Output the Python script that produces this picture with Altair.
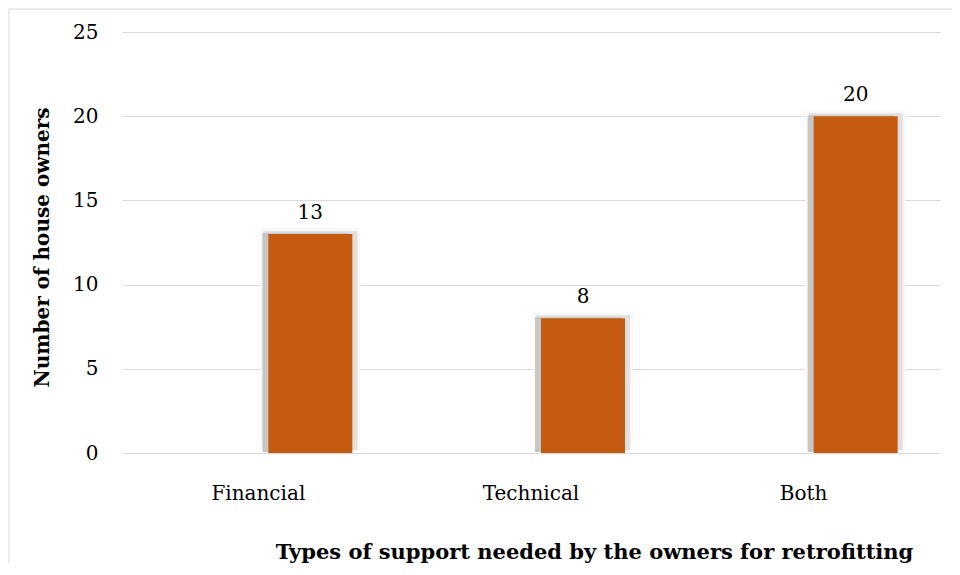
import altair as alt
import pandas as pd

categories = ["Financial", "Technical", "Both"]
values = [13, 8, 20]
y_ticks = [0, 5, 10, 15, 20, 25]

df = pd.DataFrame({"cat": categories, "val": values})
one = pd.DataFrame({"a": [0]})

FONT = "DejaVu Serif"
BAR = "#C55A11"
OFF = 52

x_enc = alt.X(
    "cat:N", sort=categories,
    scale=alt.Scale(paddingInner=0, paddingOuter=0),
    axis=alt.Axis(
        title="Types of support needed by the owners for retrofitting",
        labelAngle=0, labelFont=FONT, labelFontSize=20, labelColor="#000000",
        labelPadding=30, ticks=False, domain=True, domainColor="#d9d9d9",
        domainWidth=1, grid=False,
        titleFont=FONT, titleFontSize=21, titleFontWeight="bold", titleColor="#000000",
        titleX=472, titleY=105, titleAnchor="middle", titleAlign="center",
        titleBaseline="alphabetic",
    ),
)
y_enc = alt.Y(
    "val:Q",
    scale=alt.Scale(domain=[0, 25], nice=False),
    axis=alt.Axis(
        title="Number of house owners", values=y_ticks,
        labelFont=FONT, labelFontSize=20, labelColor="#000000", labelPadding=24,
        ticks=False, domain=False, grid=True, gridColor="#d9d9d9", gridWidth=1,
        titleFont=FONT, titleFontSize=20, titleFontWeight="bold", titleColor="#000000",
        titleX=-80, titleY=215, titleAngle=-90, titleAlign="center",
        titleBaseline="middle",
    ),
)

base = alt.Chart(df).encode(x=x_enc, y=y_enc)

glow = base.mark_bar(width=100, xOffset=OFF, color="#f8f8f8", yOffset=-6, y2Offset=2)
shadow1 = base.mark_bar(width=94, xOffset=OFF, color="#e0e0e0", yOffset=-3, y2Offset=2)
shadow2 = base.mark_bar(width=86, xOffset=OFF - 5, color="#c6c6c6", yOffset=-1, y2Offset=2)
bars = base.mark_bar(width=84, xOffset=OFF, color=BAR)
labels = base.mark_text(
    xOffset=OFF, dy=-15, baseline="alphabetic", font=FONT, fontSize=20, color="#000000"
).encode(text="val:Q")

border_top = alt.Chart(one).mark_rule(color="#d9d9d9", strokeWidth=1).encode(
    x=alt.value(-113), x2=alt.value(840), y=alt.value(-23)
)
border_left = alt.Chart(one).mark_rule(color="#d9d9d9", strokeWidth=1).encode(
    x=alt.value(-113), y=alt.value(-23), y2=alt.value(560)
)

chart = alt.layer(glow, shadow1, shadow2, bars, labels, border_top, border_left).properties(
    width=818, height=421,
    background="#ffffff",
    autosize=alt.AutoSizeParams(type="none"),
    padding={"left": 114, "top": 24, "right": 12, "bottom": 110},
).configure_view(strokeWidth=0, stroke=None)

chart.save("out.html", embed_options={"renderer": "svg", "actions": False})
